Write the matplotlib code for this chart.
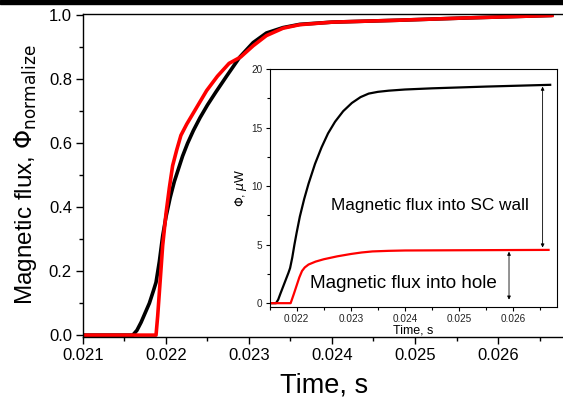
import matplotlib
matplotlib.use("Agg")
import matplotlib.pyplot as plt
from matplotlib.ticker import MultipleLocator, FormatStrFormatter
from matplotlib.patches import Rectangle

plt.rcParams['font.family'] = ['Liberation Sans', 'DejaVu Sans']

# Main plot: normalized flux
t_wall_norm = [0.0210, 0.02160, 0.02165, 0.02170, 0.02175, 0.02180, 0.02185, 0.02188,
               0.02192, 0.02196, 0.02200, 0.02205, 0.02210, 0.02215, 0.02220, 0.02226,
               0.02233, 0.02241, 0.02250, 0.02260, 0.02273, 0.02289, 0.02305, 0.02321,
               0.02341, 0.02361, 0.02400, 0.02480, 0.02560, 0.02665]
v_wall_norm = [0.0, 0.0, 0.015, 0.04, 0.07, 0.10, 0.14, 0.165,
               0.23, 0.31, 0.37, 0.43, 0.48, 0.52, 0.56, 0.60,
               0.64, 0.68, 0.72, 0.76, 0.81, 0.87, 0.915, 0.945,
               0.962, 0.972, 0.979, 0.985, 0.992, 1.0]

t_hole_norm = [0.0210, 0.02188, 0.02190, 0.02193, 0.02196, 0.02200, 0.02204, 0.02208,
               0.02213, 0.02218, 0.02225, 0.02233, 0.02241, 0.02249, 0.02262, 0.02276,
               0.02290, 0.02305, 0.02321, 0.02341, 0.02361, 0.02400, 0.02480, 0.02560,
               0.02665]
v_hole_norm = [0.0, 0.0, 0.06, 0.17, 0.28, 0.38, 0.46, 0.53,
               0.58, 0.625, 0.66, 0.695, 0.73, 0.765, 0.81, 0.85,
               0.87, 0.905, 0.937, 0.96, 0.971, 0.979, 0.985, 0.992,
               1.0]

# Inset: absolute flux, uW
t_wall = [0.0215, 0.02162, 0.02166, 0.02170, 0.02175, 0.02180, 0.02185, 0.02188,
          0.02192, 0.02196, 0.02200, 0.02206, 0.02214, 0.02222, 0.02234, 0.02246,
          0.02258, 0.02271, 0.02286, 0.02302, 0.02318, 0.02333, 0.02350, 0.02370,
          0.02400, 0.02450, 0.02550, 0.02668]
v_wall = [0.0, 0.0, 0.3, 0.8, 1.4, 2.0, 2.6, 3.0,
          3.9, 5.0, 6.0, 7.4, 8.9, 10.2, 11.9, 13.3,
          14.5, 15.5, 16.4, 17.1, 17.6, 17.9, 18.05, 18.15,
          18.25, 18.35, 18.5, 18.65]

t_hole = [0.0215, 0.02189, 0.02192, 0.02195, 0.02200, 0.02205, 0.02210, 0.02215,
          0.02222, 0.02235, 0.02250, 0.02275, 0.02300, 0.02320, 0.02340, 0.02370,
          0.02400, 0.02500, 0.02665]
v_hole = [0.0, 0.0, 0.4, 0.8, 1.5, 2.2, 2.75, 3.05,
          3.3, 3.55, 3.75, 4.0, 4.2, 4.33, 4.42, 4.47,
          4.5, 4.52, 4.55]

main_xticks = [0.021, 0.022, 0.023, 0.024, 0.025, 0.026]
main_yticks = [0.0, 0.2, 0.4, 0.6, 0.8, 1.0]
inset_xticks = [0.022, 0.023, 0.024, 0.025, 0.026]
inset_yticks = [0, 5, 10, 15, 20]

fig = plt.figure(figsize=(5.63, 4.01), dpi=100)
fig.patches.append(Rectangle((0, 1 - 3.5/401), 1, 3.5/401, transform=fig.transFigure,
                             color='black', zorder=10))

ax = fig.add_axes([0.1474, 0.1603, 1.0025 - 0.1474, 0.9663 - 0.1603])
ax.plot(t_wall_norm, v_wall_norm, color='black', lw=2.6, solid_capstyle='round',
        solid_joinstyle='round')
ax.plot(t_hole_norm, v_hole_norm, color='#ff0000', lw=2.6, solid_joinstyle='round')
ax.set_xlim(0.021, 0.0268)
ax.set_ylim(-0.005, 1.006)
ax.set_xticks(main_xticks)
ax.set_yticks(main_yticks)
ax.xaxis.set_major_formatter(FormatStrFormatter('%.3f'))
ax.yaxis.set_major_formatter(FormatStrFormatter('%.1f'))
ax.xaxis.set_minor_locator(MultipleLocator(0.0005))
ax.yaxis.set_minor_locator(MultipleLocator(0.1))
ax.tick_params(which='major', direction='out', length=5, width=1, labelsize=12, pad=3)
ax.tick_params(which='minor', direction='out', length=3, width=1)
for s in ax.spines.values():
    s.set_linewidth(1.0)
ax.set_xlabel('Time, s', fontsize=19.5, labelpad=7)
ax.set_ylabel('Magnetic flux, $\\Phi_{\\mathrm{normalize}}$', fontsize=17.5, labelpad=7)

ins = fig.add_axes([0.4787, 0.2352, 0.9888 - 0.4787, 0.8279 - 0.2352])
ins.plot(t_wall, v_wall, color='black', lw=1.6, solid_joinstyle='round')
ins.plot(t_hole, v_hole, color='#ff0000', lw=1.6, solid_joinstyle='round')
ins.set_xlim(0.0215, 0.0268)
ins.set_ylim(-0.3, 20)
ins.set_xticks(inset_xticks)
ins.set_yticks(inset_yticks)
ins.xaxis.set_major_formatter(FormatStrFormatter('%.3f'))
ins.xaxis.set_minor_locator(MultipleLocator(0.0005))
ins.yaxis.set_minor_locator(MultipleLocator(2.5))
ins.tick_params(which='major', direction='out', length=3, width=0.8, labelsize=7.2,
                pad=2, labelcolor='#222222')
ins.tick_params(which='minor', direction='out', length=2, width=0.8)
for s in ins.spines.values():
    s.set_linewidth(0.8)
ins.set_xlabel('Time, s', fontsize=9, labelpad=0.5)
ins.set_ylabel('$\\Phi$, $\\mu$W', fontsize=9, labelpad=2)

ins.annotate('', xy=(0.02654, 18.5), xytext=(0.02654, 4.75),
             arrowprops=dict(arrowstyle='<|-|>', lw=0.6, color='black',
                             mutation_scale=5, shrinkA=0, shrinkB=0))
ins.annotate('', xy=(0.02592, 4.4), xytext=(0.02592, 0.3),
             arrowprops=dict(arrowstyle='<|-|>', lw=0.6, color='black',
                             mutation_scale=5, shrinkA=0, shrinkB=0))
ins.text(0.02446, 8.3, 'Magnetic flux into SC wall', fontsize=12.4, ha='center', va='center')
ins.text(0.02398, 1.7, 'Magnetic flux into hole', fontsize=13.6, ha='center', va='center')

fig.savefig('out.png', dpi=100)
